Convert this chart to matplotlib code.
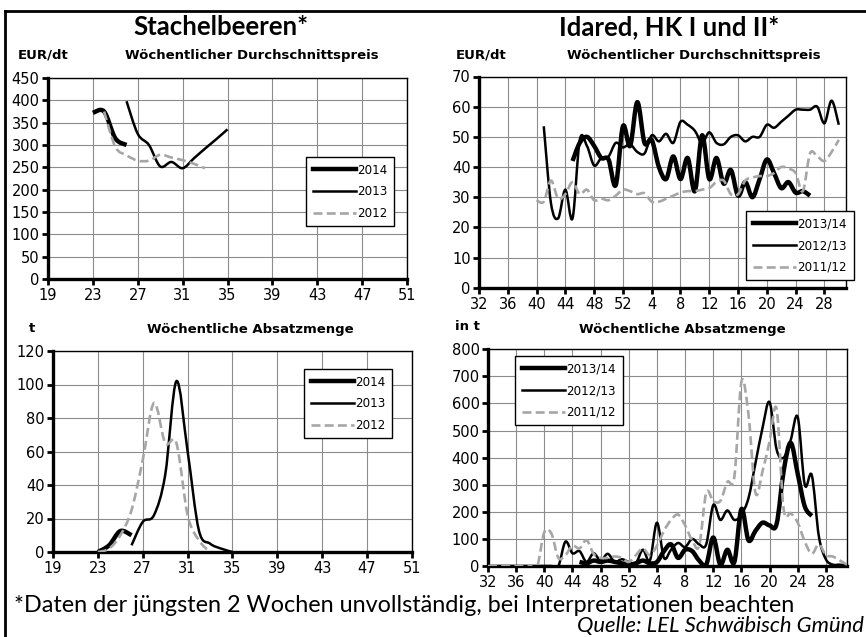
import numpy as np
import matplotlib
matplotlib.use("Agg")
import matplotlib.pyplot as plt
from matplotlib.path import Path
from matplotlib.patches import PathPatch
from matplotlib.lines import Line2D

# ---------------- data ----------------
# Stachelbeeren price (EUR/dt) by calendar week
sb_price_2014_wk = [23, 24, 25, 26]
sb_price_2014 = [372, 375, 315, 300]
sb_price_2013_wk = [26, 27, 28, 29, 30, 31, 32, 33, 34, 35]
sb_price_2013 = [398, 325, 300, 252, 262, 248, 270, 292, 313, 335]
sb_price_2012_wk = [24, 25, 26, 27, 28, 29, 30, 31, 32, 33]
sb_price_2012 = [375, 296, 277, 265, 265, 278, 272, 266, 258, 248]

# Stachelbeeren volume (t)
sb_vol_2014_wk = [23, 24, 25, 26]
sb_vol_2014 = [0, 4, 12.5, 10]
sb_vol_2013_wk = [26, 27, 28, 29, 30, 31, 32, 33, 34, 35]
sb_vol_2013 = [4, 18, 22, 46, 102, 60, 13, 5, 2, 0]
sb_vol_2012_wk = [23, 24, 25, 26, 27, 28, 29, 30, 31, 32, 33]
sb_vol_2012 = [0, 2, 10, 25, 55, 89, 65, 65, 22, 7, 0]

# Idared: season week position (0 = KW 32 ... 51 = KW 31)
ida_tick_pos = [0, 4, 8, 12, 16, 20, 24, 28, 32, 36, 40, 44, 48]
ida_tick_lab = ["32", "36", "40", "44", "48", "52", "4", "8", "12", "16", "20", "24", "28"]

ida_price_1314_start = 13
ida_price_1314 = [42, 48, 50, 47, 43, 42.5, 34, 53.5, 47, 61.5, 48, 49, 40, 36,
                  43.5, 36, 43, 32, 50.5, 36, 43, 34.5, 39, 30.5, 35, 30, 36,
                  42.5, 38, 33, 35, 31.5, 32, 30.5]
ida_price_1213_start = 9
ida_price_1213 = [53.5, 28, 23, 32.5, 23, 49, 47, 40.5, 43, 43.5, 48, 46.5, 47.5,
                  45, 44.5, 50.5, 48.5, 51, 48, 55, 54, 52, 48, 51.5, 48, 47.5, 50,
                  50.5, 48.5, 50, 50, 54, 53, 55, 57, 59, 59, 59, 60, 54.5, 62, 54]
ida_price_1112_start = 8
ida_price_1112 = [29, 28.5, 35.5, 29.5, 31, 35, 31, 32.5, 29, 29.5, 29, 30.5, 32.5,
                  32, 31, 31.3, 28.5, 28.5, 29.5, 30.5, 31.5, 32, 32, 32.5, 33, 35,
                  35.5, 31, 31, 35.5, 36.5, 37, 37, 38, 40, 39.5, 38, 32, 44.5, 43.5,
                  42, 45, 49]

ida_vol_1314_start = 13
ida_vol_1314 = [15, 10, 20, 15, 20, 15, 10, 5, 10, 20, 10, 15, 55, 80, 30, 60, 55,
                20, 5, 105, 5, 60, 15, 210, 95, 130, 160, 150, 155, 350, 455, 340,
                220, 185]
ida_vol_1213_start = 0
ida_vol_1213 = [0, 0, 0, 0, 0, 0, 0, 0, 0, 0, 0, 90, 47, 55, 15, 47, 20, 45, 15, 25,
                15, 10, 60, 20, 160, 30, 60, 85, 70, 100, 80, 80, 225, 170, 205, 170,
                190, 250, 380, 510, 605, 430, 400, 465, 550, 300, 335, 110, 25, 5, 5, 0]
ida_vol_1112_start = 0
ida_vol_1112 = [0, 0, 0, 0, 0, 0, 0, 0, 125, 120, 30, 40, 75, 65, 95, 45, 30, 30, 35,
                30, 15, 40, 65, 40, 75, 130, 170, 190, 150, 95, 75, 270, 240, 240, 310,
                330, 680, 560, 270, 350, 460, 580, 210, 195, 160, 90, 45, 80, 40, 35,
                20, 5]

# ---------------- figure ----------------
W, H = 866, 637
fig = plt.figure(figsize=(W / 100, H / 100), dpi=100)
fig.patch.set_facecolor("white")

TICK_FONT = "DejaVu Sans"
GRID_C = "#8c8c8c"
GRAY = "#a6a6a6"


def add_ax(l, r, t, b):
    return fig.add_axes([l / W, 1 - b / H, (r - l) / W, (b - t) / H])


def smooth_path(x, y):
    pts = np.column_stack([np.asarray(x, float), np.asarray(y, float)])
    n = len(pts)
    verts = [pts[0]]
    codes = [Path.MOVETO]
    for i in range(n - 1):
        p0 = pts[i - 1] if i > 0 else pts[i]
        p1 = pts[i]
        p2 = pts[i + 1]
        p3 = pts[i + 2] if i + 2 < n else pts[i + 1]
        c1 = p1 + (p2 - p0) / 6.0
        c2 = p2 - (p3 - p1) / 6.0
        verts += [c1, c2, p2]
        codes += [Path.CURVE4] * 3
    return Path(verts, codes)


STYLES = [
    dict(color="black", lw=3.2, ls="-"),
    dict(color="black", lw=1.8, ls="-"),
    dict(color=GRAY, lw=1.9, ls=(0, (3.4, 1.6))),
]


def draw_series(ax, x, y, st, z):
    p = PathPatch(smooth_path(x, y), fill=False, edgecolor=st["color"],
                  lw=st["lw"], linestyle=st["ls"], zorder=z,
                  capstyle="butt", joinstyle="round")
    ax.add_patch(p)


def style_ax(ax, xlim, xticks, xlabels, ylim, yticks):
    ax.set_xlim(*xlim)
    ax.set_ylim(*ylim)
    ax.set_xticks(xticks)
    ax.set_xticklabels(xlabels)
    ax.set_yticks(yticks)
    ax.grid(True, color=GRID_C, lw=0.8)
    ax.set_axisbelow(True)
    for s in ["left", "bottom"]:
        ax.spines[s].set_linewidth(2.4)
        ax.spines[s].set_color("black")
    for s in ["top", "right"]:
        ax.spines[s].set_linewidth(1.0)
        ax.spines[s].set_color("black")
    ax.tick_params(axis="both", direction="out", length=4, width=2,
                   labelsize=10.5, pad=2, colors="black")
    ax.tick_params(axis="x", pad=2.5)
    for lab in ax.get_xticklabels() + ax.get_yticklabels():
        lab.set_fontfamily(TICK_FONT)


def add_legend(ax, labels, x0, y1):
    handles = [Line2D([], [], color=s["color"], lw=s["lw"], ls=s["ls"]) for s in STYLES]
    leg = ax.legend(handles, labels, loc="upper left", bbox_to_anchor=(x0, y1),
                    bbox_transform=fig.transFigure, frameon=True, fancybox=False,
                    framealpha=1, edgecolor="black", handlelength=3.6,
                    handletextpad=0.15, labelspacing=0.72, borderpad=0.55,
                    borderaxespad=0, prop=dict(family=TICK_FONT, size=8.6))
    leg.get_frame().set_linewidth(1.0)
    leg.set_zorder(20)


# ---- top-left: Stachelbeeren price
ax1 = add_ax(48, 407, 78, 279)
style_ax(ax1, (19, 51), list(range(19, 52, 4)), [str(v) for v in range(19, 52, 4)],
         (0, 450), list(range(0, 451, 50)))
draw_series(ax1, sb_price_2014_wk, sb_price_2014, STYLES[0], 3)
draw_series(ax1, sb_price_2013_wk, sb_price_2013, STYLES[1], 4)
draw_series(ax1, sb_price_2012_wk, sb_price_2012, STYLES[2], 5)
add_legend(ax1, ["2014", "2013", "2012"], 306 / W, 1 - 157 / H)

# ---- bottom-left: Stachelbeeren volume
ax2 = add_ax(53, 412, 351, 552)
style_ax(ax2, (19, 51), list(range(19, 52, 4)), [str(v) for v in range(19, 52, 4)],
         (0, 120), list(range(0, 121, 20)))
draw_series(ax2, sb_vol_2014_wk, sb_vol_2014, STYLES[0], 3)
draw_series(ax2, sb_vol_2013_wk, sb_vol_2013, STYLES[1], 4)
draw_series(ax2, sb_vol_2012_wk, sb_vol_2012, STYLES[2], 5)
add_legend(ax2, ["2014", "2013", "2012"], 304 / W, 1 - 369 / H)

# ---- top-right: Idared price
ax3 = add_ax(479, 846, 76.5, 287.7)
style_ax(ax3, (0, 51), ida_tick_pos, ida_tick_lab, (0, 70), list(range(0, 71, 10)))
draw_series(ax3, np.arange(len(ida_price_1314)) + ida_price_1314_start, ida_price_1314, STYLES[0], 3)
draw_series(ax3, np.arange(len(ida_price_1213)) + ida_price_1213_start, ida_price_1213, STYLES[1], 4)
draw_series(ax3, np.arange(len(ida_price_1112)) + ida_price_1112_start, ida_price_1112, STYLES[2], 5)
add_legend(ax3, ["2013/14", "2012/13", "2011/12"], 746 / W, 1 - 211 / H)

# ---- bottom-right: Idared volume
ax4 = add_ax(488, 847, 349.3, 566)
style_ax(ax4, (0, 51), ida_tick_pos, ida_tick_lab, (0, 800), list(range(0, 801, 100)))
draw_series(ax4, np.arange(len(ida_vol_1314)) + ida_vol_1314_start, ida_vol_1314, STYLES[0], 3)
draw_series(ax4, np.arange(len(ida_vol_1213)) + ida_vol_1213_start, ida_vol_1213, STYLES[1], 4)
draw_series(ax4, np.arange(len(ida_vol_1112)) + ida_vol_1112_start, ida_vol_1112, STYLES[2], 5)
add_legend(ax4, ["2013/14", "2012/13", "2011/12"], 515 / W, 1 - 356 / H)

# ---------------- texts ----------------
def ftext(px, py, s, **kw):
    fig.text(px / W, 1 - py / H, s, **kw)


ftext(221, 35, "Stachelbeeren*", ha="center", va="baseline",
      family="Lato", weight="bold", size=18.5)
ftext(669, 35, "Idared, HK I und II*", ha="center", va="baseline",
      family="Lato", weight="bold", size=18.5)

lab_kw = dict(family=TICK_FONT, weight="bold", size=9.5, va="baseline")
ftext(18, 58.5, "EUR/dt", ha="left", **lab_kw)
ftext(252, 58.5, "Wöchentlicher Durchschnittspreis", ha="center", **lab_kw)
ftext(456, 58.5, "EUR/dt", ha="left", **lab_kw)
ftext(694, 58.5, "Wöchentlicher Durchschnittspreis", ha="center", **lab_kw)
ftext(29, 332.5, "t", ha="left", **lab_kw)
ftext(250, 332.5, "Wöchentliche Absatzmenge", ha="center", **lab_kw)
ftext(455, 330, "in t", ha="left", **lab_kw)
ftext(682, 332.5, "Wöchentliche Absatzmenge", ha="center", **lab_kw)

ftext(14, 612, "*Daten der jüngsten 2 Wochen unvollständig, bei Interpretationen beachten",
      ha="left", va="baseline", family="Lato", size=16.8)
ftext(864, 632, "Quelle: LEL Schwäbisch Gmünd", ha="right", va="baseline",
      family="Lato", style="italic", size=15.8)

# outer frame lines (top and left)
fig.add_artist(Line2D([5 / W, 1.0], [1 - 11 / H, 1 - 11 / H], color="black", lw=2.0,
                      transform=fig.transFigure))
fig.add_artist(Line2D([5 / W, 5 / W], [1 - 11 / H, 0.0], color="black", lw=2.0,
                      transform=fig.transFigure))

fig.savefig("out.png", dpi=100, facecolor="white")
